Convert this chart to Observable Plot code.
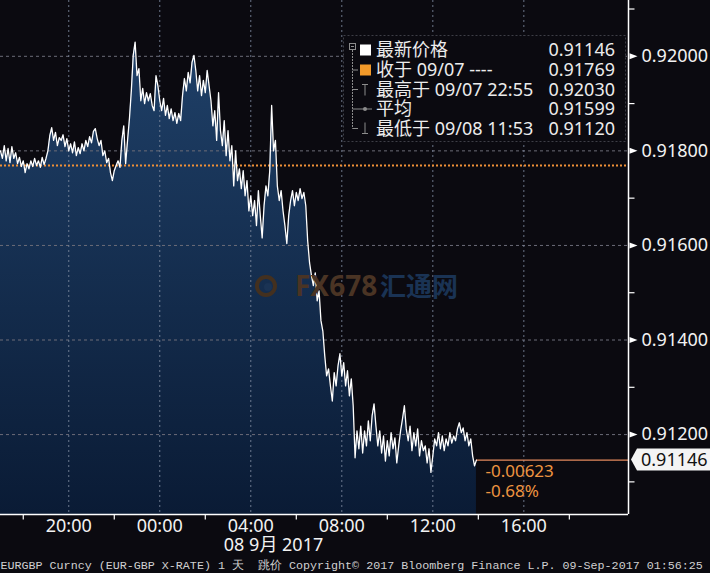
<!DOCTYPE html>
<html><head><meta charset="utf-8">
<script src="https://cdn.jsdelivr.net/npm/d3@7"></script>
<script src="https://cdn.jsdelivr.net/npm/@observablehq/plot@0.6"></script>
<style>
html,body{margin:0;padding:0;background:#0b0a10;}
#chart{width:710px;height:573px;overflow:hidden;}
</style></head><body><div id="chart"></div>
<script>
// ---- data ----
const seriesStart = "2017-09-07T17:00:00Z";   // first tick (5-minute spacing)
const stepMinutes = 5;
const prices = [
0.91800,0.91784,0.91811,0.91779,0.91805,0.91775,0.91809,0.91784,0.91796,0.91773,
0.91786,0.91767,0.91779,0.91754,0.91773,0.91762,0.91779,0.91767,0.91784,0.91769,
0.91779,0.91765,0.91786,0.91771,0.91784,0.91800,0.91832,0.91849,0.91822,0.91839,
0.91811,0.91828,0.91822,0.91834,0.91809,0.91826,0.91800,0.91815,0.91796,0.91819,
0.91790,0.91807,0.91794,0.91815,0.91800,0.91822,0.91809,0.91830,0.91817,0.91841,
0.91847,0.91826,0.91811,0.91822,0.91790,0.91800,0.91775,0.91784,0.91754,0.91737,
0.91758,0.91769,0.91779,0.91765,0.91822,0.91853,0.91773,0.91822,0.91868,0.91927,
0.92002,0.92030,0.91959,0.91974,0.91906,0.91932,0.91900,0.91923,0.91906,0.91921,
0.91896,0.91885,0.91959,0.91938,0.91906,0.91885,0.91911,0.91875,0.91896,0.91868,
0.91889,0.91864,0.91881,0.91858,0.91879,0.91864,0.91917,0.91953,0.91927,0.91966,
0.91944,0.91987,0.92002,0.91970,0.91927,0.91959,0.91917,0.91949,0.91923,0.91970,
0.91938,0.91906,0.91853,0.91885,0.91822,0.91923,0.91843,0.91811,0.91864,0.91790,
0.91843,0.91779,0.91811,0.91726,0.91800,0.91737,0.91762,0.91720,0.91758,0.91705,
0.91737,0.91673,0.91705,0.91663,0.91695,0.91642,0.91716,0.91663,0.91616,0.91684,
0.91726,0.91705,0.91758,0.91896,0.91800,0.91822,0.91726,0.91695,0.91716,0.91673,
0.91642,0.91604,0.91663,0.91695,0.91716,0.91684,0.91712,0.91695,0.91720,0.91699,
0.91712,0.91684,0.91610,0.91563,0.91536,0.91515,0.91542,0.91483,0.91504,0.91441,
0.91419,0.91367,0.91324,0.91339,0.91303,0.91271,0.91331,0.91303,0.91345,0.91371,
0.91324,0.91352,0.91303,0.91335,0.91282,0.91318,0.91261,0.91151,0.91208,0.91170,
0.91218,0.91161,0.91208,0.91176,0.91229,0.91187,0.91240,0.91265,0.91218,0.91176,
0.91208,0.91161,0.91197,0.91144,0.91187,0.91155,0.91204,0.91170,0.91193,0.91140,
0.91176,0.91208,0.91233,0.91261,0.91212,0.91187,0.91218,0.91166,0.91204,0.91176,
0.91212,0.91155,0.91187,0.91166,0.91176,0.91140,0.91170,0.91120,0.91155,0.91191,
0.91176,0.91204,0.91170,0.91197,0.91166,0.91191,0.91176,0.91204,0.91182,0.91197,
0.91187,0.91212,0.91225,0.91204,0.91214,0.91187,0.91204,0.91176,0.91191,0.91155,
0.91134,0.91146
];
const closePrev = 0.91769;
const lastPrice = 0.91146;
const changeAbs = "-0.00623";
const changePct = "-0.68%";
const yMajor = [0.912, 0.914, 0.916, 0.918, 0.920];
const yMajorLabels = ["0.91200", "0.91400", "0.91600", "0.91800", "0.92000"];
const yMinor = [0.911, 0.913, 0.915, 0.917, 0.919, 0.921];
const xMajor = ["2017-09-07T20:00:00Z","2017-09-08T00:00:00Z","2017-09-08T04:00:00Z","2017-09-08T08:00:00Z","2017-09-08T12:00:00Z","2017-09-08T16:00:00Z"];
const xMajorLabels = ["20:00","00:00","04:00","08:00","12:00","16:00"];
const xMinor = ["2017-09-07T18:00:00Z","2017-09-07T22:00:00Z","2017-09-08T02:00:00Z","2017-09-08T06:00:00Z","2017-09-08T10:00:00Z","2017-09-08T14:00:00Z","2017-09-08T18:00:00Z"];
const xDomain = ["2017-09-07T17:00:00Z","2017-09-08T20:36:00Z"];
const yDomain = [0.91031, 0.92118];
const dateLabel = "08 9月 2017";
const dateLabelTime = "2017-09-08T05:00:00Z";
const legendLabels = ["最新价格", "收于 09/07 ----", "最高于 09/07 22:55", "平均", "最低于 09/08 11:53"];
const legendValues = ["0.91146", "0.91769", "0.92030", "0.91599", "0.91120"];
const footerText = "EURGBP Curncy (EUR-GBP X-RATE) 1 天  跳价 Copyright© 2017 Bloomberg Finance L.P. 09-Sep-2017 01:56:25";
const watermarkA = "FX678";
const watermarkB = "汇通网";

// ---- build ----
const T = s => new Date(s);
const t0 = T(seriesStart).getTime();
const data = prices.map((v, i) => ({t: new Date(t0 + i * stepMinutes * 60000), v}));
const lastT = data[data.length - 1].t;
const xEnd = T(xDomain[1]);
const yBottom = yDomain[0];
const font = "'Noto Sans','Noto Sans CJK SC',sans-serif";
const white = "#f2f2f2";

const triRight = {draw(ctx) { ctx.moveTo(1, -3); ctx.lineTo(9, 0); ctx.lineTo(1, 3); ctx.closePath(); }};
const hTick = {draw(ctx) { ctx.moveTo(0, 0); ctx.lineTo(6, 0); }};
const vTick = {draw(ctx) { ctx.moveTo(0, 0); ctx.lineTo(0, 5); }};

const chart = Plot.plot({
  width: 710, height: 573,
  marginLeft: 0, marginRight: 82, marginTop: 0, marginBottom: 59,
  style: {background: "#0b0a10", color: white, fontFamily: font},
  x: {type: "utc", domain: xDomain.map(T), axis: null},
  y: {domain: yDomain, axis: null},
  marks: [
    Plot.areaY(data, {x: "t", y1: () => yBottom, y2: "v", fill: "url(#areaGrad)"}),
    Plot.ruleY(yMajor, {stroke: "#6c6c78", strokeDasharray: "3,3", strokeWidth: 1}),
    Plot.ruleX(xMajor.map(T), {stroke: "#7d889e", strokeDasharray: "2,3", strokeWidth: 1, strokeOpacity: 0.85}),
    Plot.ruleY([closePrev], {stroke: "#ef9036", strokeWidth: 2, strokeDasharray: "2,2"}),
    Plot.ruleY([lastPrice], {x1: () => lastT, x2: () => xEnd, stroke: "#e58a5c", strokeWidth: 1.2}),
    Plot.lineY(data, {x: "t", y: "v", stroke: "#ffffff", strokeWidth: 1.3}),
    Plot.ruleX([xEnd], {stroke: "#ffffff", strokeWidth: 1.5}),
    Plot.ruleY([yBottom], {stroke: "#ffffff", strokeWidth: 1.5}),
    Plot.dot(yMajor, {x: () => xEnd, y: d => d, symbol: triRight, fill: "#ffffff", stroke: null, r: 3}),
    Plot.dot(yMinor, {x: () => xEnd, y: d => d, symbol: hTick, stroke: "#ffffff", fill: null, r: 3, strokeWidth: 1.2}),
    Plot.dot(xMinor.map(T), {x: d => d, y: () => yBottom, symbol: vTick, stroke: "#ffffff", fill: null, r: 3, strokeWidth: 1.2}),
    Plot.text(yMajor, {x: () => xEnd, y: d => d, text: (d, i) => yMajorLabels[i], dx: 13, textAnchor: "start", fill: white, fontSize: 18}),
    Plot.text(xMajor.map(T), {x: d => d, y: () => yBottom, text: (d, i) => xMajorLabels[i], dy: 12, fill: white, fontSize: 18}),
    Plot.text([dateLabel], {x: () => T(dateLabelTime), y: () => yBottom, text: d => d, dy: 31, fill: white, fontSize: 18}),
    Plot.text([changeAbs], {x: () => lastT, y: () => lastPrice, text: d => d, dx: 9, dy: 11, textAnchor: "start", fill: "#ee9440", fontSize: 17}),
    Plot.text([changePct], {x: () => lastT, y: () => lastPrice, text: d => d, dx: 9, dy: 31, textAnchor: "start", fill: "#ee9440", fontSize: 17}),
    Plot.text([footerText], {frameAnchor: "bottom-left", text: d => d, dy: 51, textAnchor: "start", lineAnchor: "middle",
      fontFamily: "'Liberation Mono','DejaVu Sans Mono',monospace", fontSize: 11.7, fill: "#d0d0d0"})
  ]
});
document.getElementById("chart").appendChild(chart);

// ---- decorations ----
const svg = d3.select(chart);
const ns = svg.insert("defs", ":first-child");
const g = ns.append("linearGradient").attr("id", "areaGrad").attr("gradientUnits", "userSpaceOnUse")
  .attr("x1", 0).attr("y1", 40).attr("x2", 0).attr("y2", 514);
g.append("stop").attr("offset", 0).attr("stop-color", "#1f4068");
g.append("stop").attr("offset", 1).attr("stop-color", "#0a1b35");

// watermark
const wm = svg.append("g").attr("font-family", font).attr("font-weight", "bold").attr("text-anchor", "start");
wm.append("circle").attr("cx", 266).attr("cy", 286).attr("r", 9).attr("fill", "none").attr("stroke", "#43301f").attr("stroke-width", 4);
wm.append("circle").attr("cx", 268).attr("cy", 287).attr("r", 4).attr("fill", "#1a3354");
wm.append("text").attr("x", 295).attr("y", 296).attr("font-size", 28).attr("fill", "#4a3424").text(watermarkA);
wm.append("text").attr("x", 380).attr("y", 296).attr("font-size", 26).attr("fill", "#1a3354").text(watermarkB);

// price box on the axis
const ys = chart.scale("y");
const py = ys.apply(lastPrice);
svg.append("path").attr("d", `M631,${py} L637,${py - 11} L710,${py - 11} L710,${py + 11} L637,${py + 11} Z`).attr("fill", "#f4f4f4");
svg.append("text").attr("x", 641).attr("y", py).attr("dy", "0.36em").attr("text-anchor", "start")
  .attr("font-family", font).attr("font-size", 18).attr("fill", "#111").text(legendValues[0]);

// legend
const lg = svg.append("g").attr("font-family", font).attr("font-size", 18).attr("text-anchor", "start");
lg.append("rect").attr("x", 343.5).attr("y", 35.5).attr("width", 282).attr("height", 106)
  .attr("fill", "#0b0a10").attr("stroke", "#3e3e46").attr("stroke-dasharray", "2,2");
const rowY = [50, 70, 89.5, 109, 128.5];
const grey = "#8c8c8c";
lg.append("rect").attr("x", 349.5).attr("y", 43.5).attr("width", 6).attr("height", 6).attr("fill", "none").attr("stroke", grey);
lg.append("line").attr("x1", 351).attr("x2", 354).attr("y1", 46.5).attr("y2", 46.5).attr("stroke", grey);
lg.append("line").attr("x1", 352.5).attr("x2", 352.5).attr("y1", 50).attr("y2", rowY[4]).attr("stroke", grey).attr("stroke-dasharray", "2,1");
rowY.slice(1).forEach(y => lg.append("line").attr("x1", 352.5).attr("x2", 358).attr("y1", y).attr("y2", y).attr("stroke", grey));
lg.append("rect").attr("x", 360).attr("y", rowY[0] - 5.5).attr("width", 11).attr("height", 11).attr("fill", "#ffffff");
lg.append("rect").attr("x", 360).attr("y", rowY[1] - 5.5).attr("width", 11).attr("height", 11).attr("fill", "#f39a2a");
lg.append("path").attr("d", `M362,${rowY[2] - 5} H368 M365,${rowY[2] - 5} V${rowY[2] + 6}`).attr("stroke", grey).attr("fill", "none");
lg.append("path").attr("d", `M358,${rowY[3]} H372`).attr("stroke", grey);
lg.append("circle").attr("cx", 365).attr("cy", rowY[3]).attr("r", 2).attr("fill", grey);
lg.append("path").attr("d", `M365,${rowY[4] - 6} V${rowY[4] + 5} M362,${rowY[4] + 5} H368`).attr("stroke", grey).attr("fill", "none");
legendLabels.forEach((s, i) => {
  lg.append("text").attr("x", 376).attr("y", rowY[i]).attr("dy", "0.36em").attr("text-anchor", "start").attr("fill", "#ececec").text(s);
  lg.append("text").attr("x", 615).attr("y", rowY[i]).attr("dy", "0.36em").attr("text-anchor", "end").attr("fill", "#ececec").text(legendValues[i]);
});
</script>
</body></html>
